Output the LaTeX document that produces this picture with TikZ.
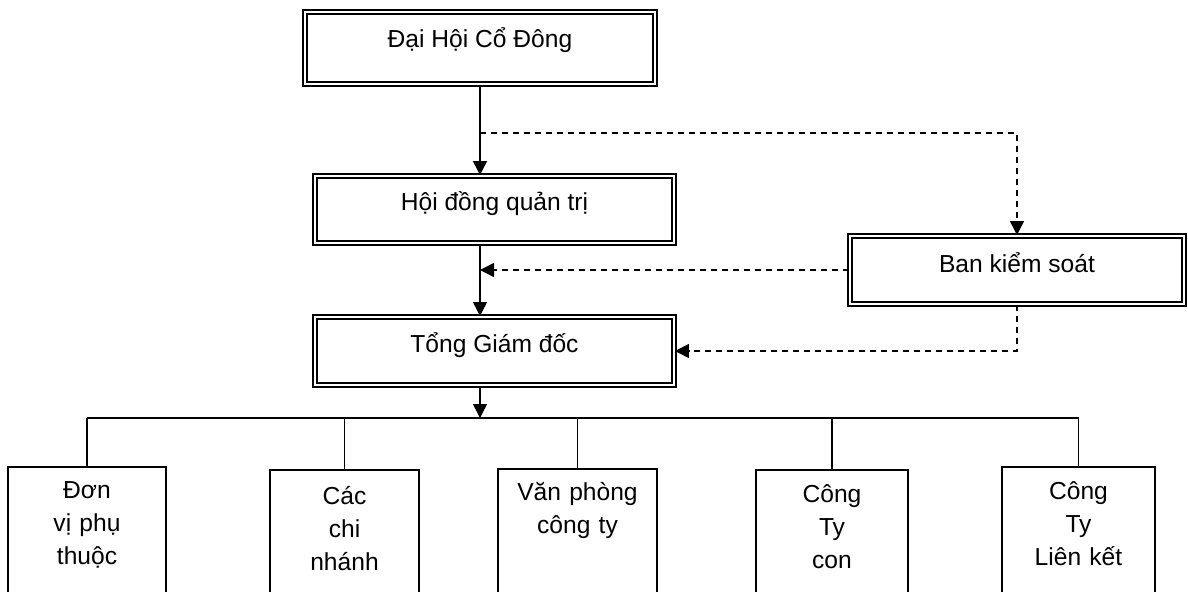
\documentclass[tikz,border=0pt]{standalone}
\usepackage{fontspec}
\setmainfont{Liberation Sans}
\usetikzlibrary{arrows.meta}

\tikzset{
  dbox/.style={draw,double,line width=0.04cm,double distance=0.04cm,inner sep=0pt,anchor=north},
  unit/.style={draw,line width=0.04cm,inner sep=0pt,anchor=north,align=center,text depth=3cm},
  link/.style={line width=0.03cm,-{Triangle[length=0.28cm,width=0.28cm]}},
  dlink/.style={link,dash pattern=on 0.12cm off 0.1cm},
  bar/.style={line width=0.03cm}
}

\begin{document}
\begin{tikzpicture}[x=0.02cm,y=-0.02cm,font=\fontsize{14}{18.5}\selectfont]
  \useasboundingbox (0,0) rectangle (1188,592);
  \clip (0,0) rectangle (1188,592);

  \node[dbox,minimum width=7cm,text height=0.72cm,text depth=0.72cm] (dhcd) at (480,11) {Đại Hội Cổ Đông};
  \node[dbox,minimum width=7.18cm,text height=0.7cm,text depth=0.64cm] (hdqt) at (494.5,175) {Hội đồng quản trị};
  \node[dbox,minimum width=7.18cm,text height=0.72cm,text depth=0.64cm] (tgd) at (494.5,316) {Tổng Giám đốc};
  \node[dbox,minimum width=6.68cm,text height=0.74cm,text depth=0.62cm] (bks) at (1017,235) {Ban kiểm soát};

  \node[unit,text width=3.16cm,text height=0.64cm] (dv1) at (87,466) {Đơn\\ vị phụ\\ thuộc};
  \node[unit,text width=3cm,text height=0.7cm] (dv2) at (344.5,469) {Các\\ chi\\ nhánh};
  \node[unit,text width=3.2cm,text height=0.64cm] (dv3) at (577.5,468) {Văn phòng\\ công ty};
  \node[unit,text width=3.06cm,text height=0.66cm] (dv4) at (832,469) {Công\\ Ty\\ con};
  \node[unit,text width=3.08cm,text height=0.66cm] (dv5) at (1078.5,466) {Công\\ Ty\\ Liên kết};

  \coordinate (split) at (480,133);
  \coordinate (bus) at (480,418);

  \draw[link] (dhcd.south) -- (dhcd.south |- hdqt.north);
  \draw[link] (dhcd.south |- hdqt.south) -- (dhcd.south |- tgd.north);
  \draw[link] (dhcd.south |- tgd.south) -- (bus);
  \draw[dlink] (split) -| (bks.north);
  \draw[dlink] (bks.west) -- (bks.west -| dhcd.south);
  \draw[dlink] (bks.south) |- (tgd.east);

  \draw[bar] (dv1.north |- bus) -- (dv5.north |- bus);
  \foreach \n in {dv1,dv2,dv3,dv4,dv5}
    \draw[bar] (\n.north |- bus) -- (\n.north);
\end{tikzpicture}
\end{document}
